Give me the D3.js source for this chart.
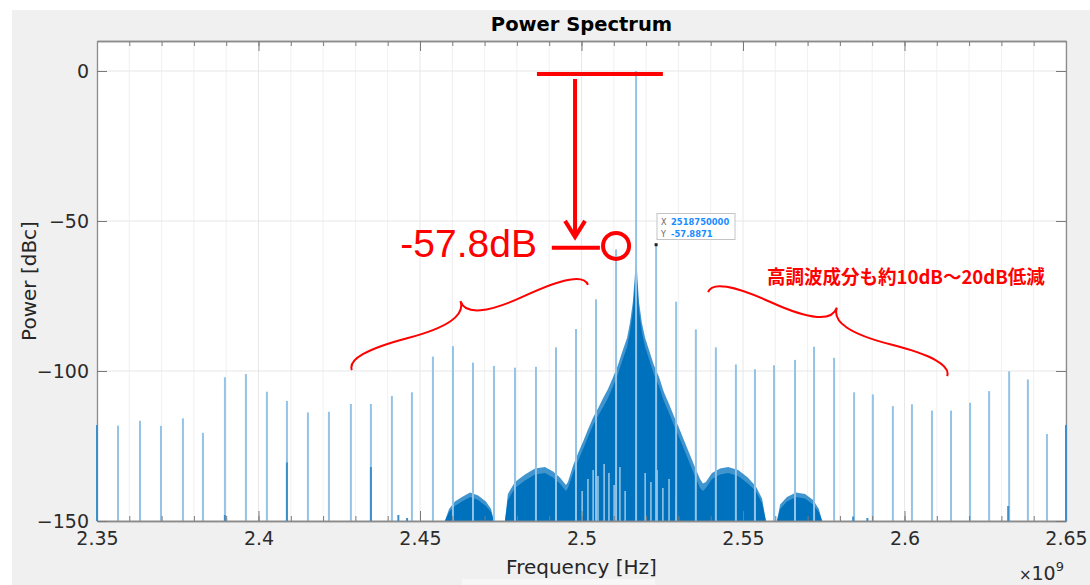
<!DOCTYPE html>
<html>
<head>
<meta charset="utf-8">
<script src="https://cdn.jsdelivr.net/npm/d3@7"></script>
<style>
  body { margin: 0; background: #fff; }
  svg { display: block; }
  text { font-family: "DejaVu Sans", sans-serif; }
</style>
</head>
<body>
<div id="vis"></div>
<script>

// spur comb (frequency in MHz, power in dBc)
var spurFreq = [2350.0, 2356.5, 2363.3, 2369.8, 2376.6, 2382.8, 2389.6, 2396.1, 2402.6, 2408.8,
  2415.3, 2421.8, 2428.6, 2434.8, 2441.3, 2447.5, 2454.0, 2460.2, 2466.4, 2472.9,
  2479.4, 2485.9, 2492.1, 2498.3, 2504.5, 2510.7, 2516.9, 2523.1, 2529.3, 2535.4,
  2541.6, 2547.8, 2553.7, 2559.6, 2566.1, 2572.0, 2578.2, 2584.4, 2590.2, 2596.4,
  2602.3, 2608.5, 2614.4, 2620.3, 2626.2, 2632.4, 2638.2, 2644.1, 2650.0];
var spurPower = [-118, -118.2, -116.6, -118.3, -115.8, -120.6, -102.1, -101.0, -106.9, -110.0,
  -113.8, -113.6, -111.0, -111.0, -108.3, -107.1, -95.2, -91.7, -97.2, -98.3,
  -98.9, -98.6, -92.1, -86.0, -76.1, -59.5, 0, -57.9, -76.9, -86.1,
  -92.1, -97.8, -99.4, -98.1, -96.3, -91.9, -95.6, -107.1, -107.8, -111.7,
  -111.1, -113.2, -113.2, -110.6, -106.7, -100.1, -102.8, -121.0, -118];

// broadband noise around the carrier: dense part and the fuzzy tips above it
var noiseFreq = [2457.7, 2459.0, 2460.8, 2463.0, 2465.5, 2468.0, 2470.4, 2472.0, 2472.9,
  2476.3, 2477.2, 2479.4, 2482.5, 2485.6, 2488.7, 2491.2, 2493.3, 2495.2,
  2495.8, 2497.4, 2498.9, 2500.5, 2502.0, 2503.6, 2505.1, 2506.7, 2508.2, 2509.8,
  2511.3, 2512.8, 2514.1, 2515.0, 2515.9, 2516.6, 2516.9, 2517.2, 2517.8, 2518.7,
  2519.7, 2520.9, 2522.4, 2524.0, 2525.5, 2527.1, 2528.6, 2530.2, 2531.7, 2533.6,
  2535.1, 2536.7, 2537.6, 2538.5, 2540.4, 2542.9, 2545.4, 2548.5, 2551.5, 2554.0,
  2555.9, 2557.1, 2560.5, 2561.5, 2563.6, 2566.4, 2569.2, 2571.7, 2573.5, 2574.5];
var noiseBody = [-150, -147, -145, -143.5, -142, -143, -145, -147, -150,
  -150, -143, -139, -136.5, -134.5, -134, -135.5, -137.5, -140,
  -139, -134, -130, -126, -122, -118, -115, -112, -109, -105,
  -101, -96, -92, -87, -80, -70, -65, -70, -80, -87,
  -92, -96, -101, -105, -110, -114, -118, -122, -126, -131,
  -135, -139, -140, -139, -136, -134.5, -134, -135, -137.5, -140,
  -144, -150, -150, -146, -143.5, -142, -142.5, -144.5, -147, -150];
var noiseFringe = [-150, -146, -143.5, -142, -140.5, -141.5, -143.5, -146, -150,
  -150, -141, -137, -134.5, -132.5, -132, -133.5, -135.5, -138,
  -137, -131.5, -127.5, -123.5, -119.5, -115.5, -112.5, -109, -106, -102,
  -98, -93, -89, -84, -77, -67, -62, -67, -77, -84,
  -89, -93, -98, -102, -107, -111, -115, -119, -123, -128,
  -132, -136, -137.5, -137, -134, -132.5, -132, -133, -135.5, -138.5,
  -142.5, -150, -150, -144.5, -142, -140.5, -141, -143, -146, -150];

// places where the noise drops under the floor inside the main lobe
var dipFreq = [2500.2, 2502.0, 2503.6, 2505.1, 2507.0, 2508.5, 2510.1, 2511.9, 2513.5,
  2519.7, 2521.5, 2523.4, 2525.2, 2527.1, 2529.3];
var dipPower = [-140, -136, -133, -135, -131, -134, -138, -132, -140,
  -134, -137, -133, -139, -136, -142];

// small dark components near the floor
var lowFreq = [2350.0, 2389.6, 2408.8, 2434.8, 2443.3, 2446.0, 2584.1, 2588.5, 2632.1, 2650.0];
var lowPower = [-118, -148, -130.5, -132, -148, -149, -148.5, -149, -145, -118];

var xTicks = [2350, 2400, 2450, 2500, 2550, 2600, 2650];
var yTicks = [-150, -100, -50, 0];

var width = 1090;
var height = 585;
var plotLeft = 97, plotRight = 1066, plotTop = 41, plotBottom = 521;

var svg = d3.select('#vis').append('svg')
  .attr('width', width)
  .attr('height', height);

// figure background
svg.append('rect')
  .attr('x', 12).attr('y', 10)
  .attr('width', width - 12).attr('height', height - 10)
  .attr('fill', '#f0f0f0');
svg.append('rect')
  .attr('x', 462).attr('y', 579)
  .attr('width', 193).attr('height', 6)
  .attr('fill', '#f7f7f7');

var x = d3.scaleLinear().domain([2350, 2650]).range([plotLeft, plotRight]);
var y = d3.scaleLinear().domain([-150, 10]).range([plotBottom, plotTop]);

svg.append('rect')
  .attr('x', plotLeft).attr('y', plotTop)
  .attr('width', plotRight - plotLeft).attr('height', plotBottom - plotTop)
  .attr('fill', '#fff');

svg.append('clipPath').attr('id', 'plot')
  .append('rect')
  .attr('x', plotLeft).attr('y', plotTop)
  .attr('width', plotRight - plotLeft).attr('height', plotBottom - plotTop);

// grid
var grid = svg.append('g');
grid.selectAll('.vgrid')
  .data(x.ticks(30))
  .enter().append('line')
  .attr('x1', function(d) { return x(d); })
  .attr('x2', function(d) { return x(d); })
  .attr('y1', plotTop).attr('y2', plotBottom)
  .attr('stroke', function(d) { return d % 50 === 0 ? '#e8e8e8' : '#f1f1f1'; })
  .attr('stroke-width', 1);
grid.selectAll('.hgrid')
  .data(yTicks)
  .enter().append('line')
  .attr('x1', plotLeft).attr('x2', plotRight)
  .attr('y1', function(d) { return y(d); })
  .attr('y2', function(d) { return y(d); })
  .attr('stroke', '#e6e6e6')
  .attr('stroke-width', 1);

var plot = svg.append('g').attr('clip-path', 'url(#plot)');

var noise = noiseFreq.map(function(f, i) {
  return { f: f, body: noiseBody[i], fringe: noiseFringe[i] };
});

var fringeArea = d3.area()
  .x(function(d) { return x(d.f); })
  .y0(y(-150))
  .y1(function(d) { return y(d.fringe); });
var bodyArea = d3.area()
  .x(function(d) { return x(d.f); })
  .y0(y(-150))
  .y1(function(d) { return y(d.body); });

plot.append('path')
  .datum(noise)
  .attr('d', fringeArea)
  .attr('fill', '#0072bd')
  .attr('fill-opacity', 0.75);
plot.append('path')
  .datum(noise)
  .attr('d', bodyArea)
  .attr('fill', '#0072bd');

var dips = dipFreq.map(function(f, i) { return { f: f, p: dipPower[i] }; });
plot.selectAll('.dip')
  .data(dips)
  .enter().append('line')
  .attr('x1', function(d) { return x(d.f); })
  .attr('x2', function(d) { return x(d.f); })
  .attr('y1', y(-150))
  .attr('y2', function(d) { return y(d.p); })
  .attr('stroke', '#fff')
  .attr('stroke-opacity', 0.7)
  .attr('stroke-width', 1.3);

var spurs = spurFreq.map(function(f, i) { return { f: f, p: spurPower[i] }; });
plot.selectAll('.spur')
  .data(spurs)
  .enter().append('line')
  .attr('x1', function(d) { return x(d.f); })
  .attr('x2', function(d) { return x(d.f); })
  .attr('y1', y(-150))
  .attr('y2', function(d) { return y(d.p); })
  .attr('stroke', '#93c3e6')
  .attr('stroke-width', 2);

// axes, box and ticks pointing inward
function ghz(d) { return String(+(d / 1000).toFixed(2)); }

function styleAxis(sel, labels) {
  sel.select('.domain').attr('stroke', '#8c8c8c').attr('stroke-width', 1.3);
  sel.selectAll('.tick line').attr('stroke', '#7a7a7a');
  sel.selectAll('.tick text')
    .attr('fill', '#2b2b2b')
    .style('font-size', '19px')
    .style('font-family', '"DejaVu Sans", sans-serif');
  if (!labels) sel.selectAll('.tick text').remove();
}

svg.append('g')
  .attr('transform', 'translate(0,' + plotBottom + ')')
  .call(d3.axisBottom(x).ticks(30).tickSize(-5).tickSizeOuter(0).tickFormat(''))
  .call(styleAxis, false);
svg.append('g')
  .attr('transform', 'translate(0,' + plotTop + ')')
  .call(d3.axisTop(x).ticks(30).tickSize(-5).tickSizeOuter(0).tickFormat(''))
  .call(styleAxis, false);

svg.append('g')
  .attr('transform', 'translate(0,' + plotBottom + ')')
  .call(d3.axisBottom(x).tickValues(xTicks).tickSize(-10).tickSizeOuter(0).tickPadding(11).tickFormat(ghz))
  .call(styleAxis, true);
svg.append('g')
  .attr('transform', 'translate(0,' + plotTop + ')')
  .call(d3.axisTop(x).tickValues(xTicks).tickSize(-10).tickSizeOuter(0).tickFormat(''))
  .call(styleAxis, false);
svg.append('g')
  .attr('transform', 'translate(' + plotLeft + ',0)')
  .call(d3.axisLeft(y).tickValues(yTicks).tickSize(-10).tickSizeOuter(0).tickPadding(8))
  .call(styleAxis, true);
svg.append('g')
  .attr('transform', 'translate(' + plotRight + ',0)')
  .call(d3.axisRight(y).tickValues(yTicks).tickSize(-10).tickSizeOuter(0).tickFormat(''))
  .call(styleAxis, false);

// low level bits, drawn over the box so the edge bins show on the axis lines
var lows = lowFreq.map(function(f, i) { return { f: f, p: lowPower[i] }; });
svg.append('g').selectAll('.low')
  .data(lows)
  .enter().append('line')
  .attr('x1', function(d) { return x(d.f); })
  .attr('x2', function(d) { return x(d.f); })
  .attr('y1', y(-150))
  .attr('y2', function(d) { return y(d.p); })
  .attr('stroke', '#3d8fcc')
  .attr('stroke-width', 2);

// titles
svg.append('text')
  .attr('x', (plotLeft + plotRight) / 2).attr('y', 31)
  .attr('text-anchor', 'middle')
  .style('font-size', '19.5px')
  .style('font-weight', 'bold')
  .attr('fill', '#000')
  .text('Power Spectrum');

svg.append('text')
  .attr('x', (plotLeft + plotRight) / 2).attr('y', 574)
  .attr('text-anchor', 'middle')
  .style('font-size', '20px')
  .attr('fill', '#262626')
  .text('Frequency [Hz]');

svg.append('text')
  .attr('transform', 'translate(36,' + ((plotTop + plotBottom) / 2) + ') rotate(-90)')
  .attr('text-anchor', 'middle')
  .style('font-size', '20px')
  .attr('fill', '#262626')
  .text('Power [dBc]');

var expo = svg.append('text')
  .attr('x', 1064).attr('y', 580)
  .attr('text-anchor', 'end')
  .style('font-size', '19px')
  .attr('fill', '#2b2b2b');
expo.append('tspan').style('font-size', '15px').text('\u00d7');
expo.append('tspan').text('10');
expo.append('tspan').attr('dy', -9).style('font-size', '13px').text('9');

// data tip on the upper neighbour of the carrier
var tip = svg.append('g');
tip.append('rect')
  .attr('x', 657).attr('y', 213.5)
  .attr('width', 78).attr('height', 26)
  .attr('fill', '#fff')
  .attr('stroke', '#c4c4c4');
tip.append('rect')
  .attr('x', x(2523.1) - 1.5).attr('y', y(-57.9) - 1.5)
  .attr('width', 3).attr('height', 3)
  .attr('fill', '#222');
tip.append('text').attr('x', 661).attr('y', 224.5)
  .style('font-size', '8px').attr('fill', '#666').text('X');
tip.append('text').attr('x', 661).attr('y', 236.5)
  .style('font-size', '8px').attr('fill', '#666').text('Y');
tip.append('text').attr('x', 671).attr('y', 224.5)
  .style('font-size', '8.4px').style('font-weight', 'bold').attr('fill', '#1a8cff').text('2518750000');
tip.append('text').attr('x', 671).attr('y', 236.5)
  .style('font-size', '8.4px').style('font-weight', 'bold').attr('fill', '#1a8cff').text('-57.8871');

// red annotations
var red = '#ff0000';
var ann = svg.append('g');

ann.append('line')
  .attr('x1', x(2486.2)).attr('x2', x(2525.2))
  .attr('y1', y(-1)).attr('y2', y(-1))
  .attr('stroke', red).attr('stroke-width', 4);

var ax = x(2498.0), aTop = y(-2.7), aTip = y(-55.3);
ann.append('line')
  .attr('x1', ax).attr('x2', ax)
  .attr('y1', aTop).attr('y2', aTip - 2)
  .attr('stroke', red).attr('stroke-width', 4);
ann.append('path')
  .attr('d', 'M' + (ax - 10) + ',' + (aTip - 16) + 'L' + ax + ',' + aTip + 'L' + (ax + 10) + ',' + (aTip - 16))
  .attr('fill', 'none')
  .attr('stroke', red).attr('stroke-width', 4)
  .attr('stroke-linejoin', 'miter');

ann.append('line')
  .attr('x1', x(2490.8)).attr('x2', x(2505.7))
  .attr('y1', y(-58.9)).attr('y2', y(-58.9))
  .attr('stroke', red).attr('stroke-width', 4);
ann.append('circle')
  .attr('cx', x(2510.7)).attr('cy', y(-58.3))
  .attr('r', 13)
  .attr('fill', 'none')
  .attr('stroke', red).attr('stroke-width', 4);

ann.append('text')
  .attr('x', x(2486.2)).attr('y', y(-62))
  .attr('text-anchor', 'end')
  .style('font-family', '"Liberation Sans", Arial, sans-serif')
  .style('font-size', '39px')
  .attr('fill', red)
  .text('-57.8dB');

function bracePath(x1, y1, x2, y2, w, q) {
  var dx = x1 - x2, dy = y1 - y2;
  var len = Math.sqrt(dx * dx + dy * dy);
  dx = dx / len;
  dy = dy / len;
  var qx1 = x1 + q * w * dy, qy1 = y1 - q * w * dx;
  var qx2 = (x1 - .25 * len * dx) + (1 - q) * w * dy, qy2 = (y1 - .25 * len * dy) - (1 - q) * w * dx;
  var tx1 = (x1 - .5 * len * dx) + w * dy, ty1 = (y1 - .5 * len * dy) - w * dx;
  var qx3 = x2 + q * w * dy, qy3 = y2 - q * w * dx;
  var qx4 = (x1 - .75 * len * dx) + (1 - q) * w * dy, qy4 = (y1 - .75 * len * dy) - (1 - q) * w * dx;
  return 'M' + x1 + ' ' + y1 + ' Q' + qx1 + ' ' + qy1 + ' ' + qx2 + ' ' + qy2 + ' T' + tx1 + ' ' + ty1 +
    ' M' + x2 + ' ' + y2 + ' Q' + qx3 + ' ' + qy3 + ' ' + qx4 + ' ' + qy4 + ' T' + tx1 + ' ' + ty1;
}

ann.append('path')
  .attr('d', bracePath(x(2502.0), y(-71.3), x(2428.9), y(-99.7), 28, 0.6))
  .attr('fill', 'none').attr('stroke', red).attr('stroke-width', 2);
ann.append('path')
  .attr('d', bracePath(x(2613.2), y(-101.7), x(2539.2), y(-73.7), 28, 0.6))
  .attr('fill', 'none').attr('stroke', red).attr('stroke-width', 2);

ann.append('text')
  .attr('x', x(2557.4)).attr('y', y(-71))
  .attr('textLength', 278)
  .attr('lengthAdjust', 'spacingAndGlyphs')
  .style('font-family', '"Noto Sans CJK JP", sans-serif')
  .style('font-size', '19px')
  .style('font-weight', 'bold')
  .attr('fill', red)
  .text('高調波成分も約10dB～20dB低減');

</script>
</body>
</html>
